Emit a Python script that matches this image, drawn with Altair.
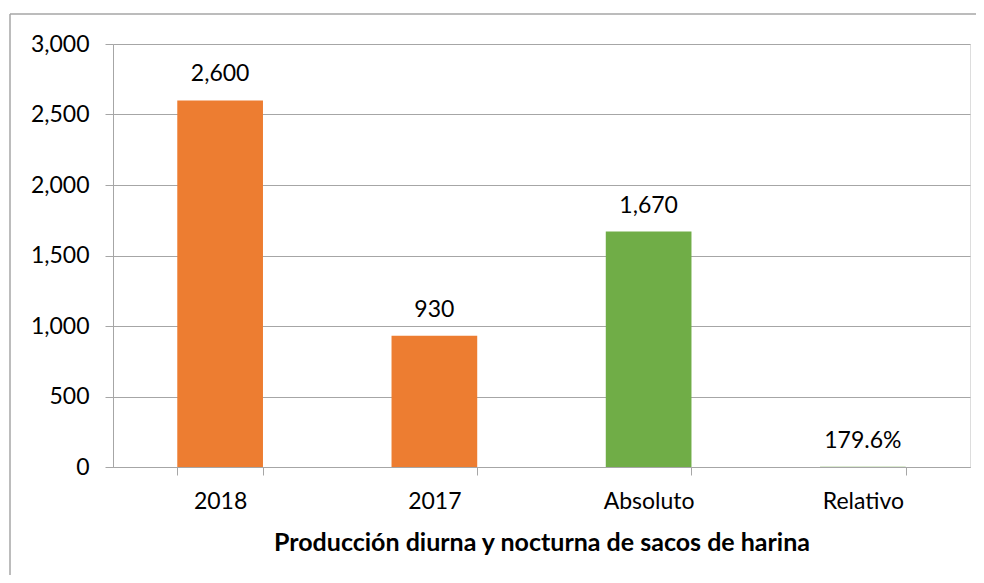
import altair as alt
import pandas as pd

categories = ["2018", "2017", "Absoluto", "Relativo"]
values = [2600, 930, 1670, 1.796]
labels = ["2,600", "930", "1,670", "179.6%"]
groups = ["Año", "Año", "Variación", "Variación"]

df = pd.DataFrame({"cat": categories, "val": values, "lab": labels, "grp": groups})

FONT = "Lato"
GRAY = "#A6A6A6"

x = alt.X("cat:N", sort=categories,
          scale=alt.Scale(paddingInner=0.6, paddingOuter=0.3),
          axis=alt.Axis(title="Producción diurna y nocturna de sacos de harina",
                        labelAngle=0, tickBand="extent", domainColor=GRAY,
                        tickColor=GRAY, tickSize=8, labelPadding=15,
                        labelFontSize=23, labelFont=FONT, labelColor="#000000",
                        titleFont=FONT, titleFontSize=25, titleFontWeight="bold",
                        titleColor="#000000", titlePadding=17))
y = alt.Y("val:Q", scale=alt.Scale(domain=[0, 3000]),
          axis=alt.Axis(title=None, values=[0, 500, 1000, 1500, 2000, 2500, 3000],
                        format=",.0f", gridColor=GRAY, domainColor=GRAY,
                        tickColor=GRAY, tickSize=8, labelPadding=16,
                        labelFontSize=23, labelFont=FONT, labelColor="#000000"))

bars = alt.Chart(df).mark_bar().encode(
    x=x, y=y,
    color=alt.Color("grp:N", scale=alt.Scale(domain=["Año", "Variación"],
                                             range=["#ED7D31", "#70AD47"]),
                    legend=None),
)

text = alt.Chart(df).mark_text(baseline="bottom", dy=-14, fontSize=23,
                               font=FONT, color="#000000").encode(
    x=alt.X("cat:N", sort=categories), y="val:Q", text="lab:N")

base = alt.Chart(pd.DataFrame({"k": [0]}))
frame_top = base.mark_rule(stroke=GRAY, strokeWidth=1.5, clip=False).encode(
    x=alt.value(-103), x2=alt.value(863), y=alt.value(-30))
frame_left = base.mark_rule(stroke=GRAY, strokeWidth=1.5, clip=False).encode(
    x=alt.value(-103), y=alt.value(-30), y2=alt.value(531))

chart = alt.layer(frame_top, frame_left, bars, text).properties(
    width=857, height=423,
    autosize=alt.AutoSizeParams(type="none"),
    padding={"left": 105, "top": 36, "right": 6, "bottom": 108},
).configure_view(stroke=None).configure(background="white")

chart.save("out.html", embed_options={"renderer": "svg", "actions": False})
